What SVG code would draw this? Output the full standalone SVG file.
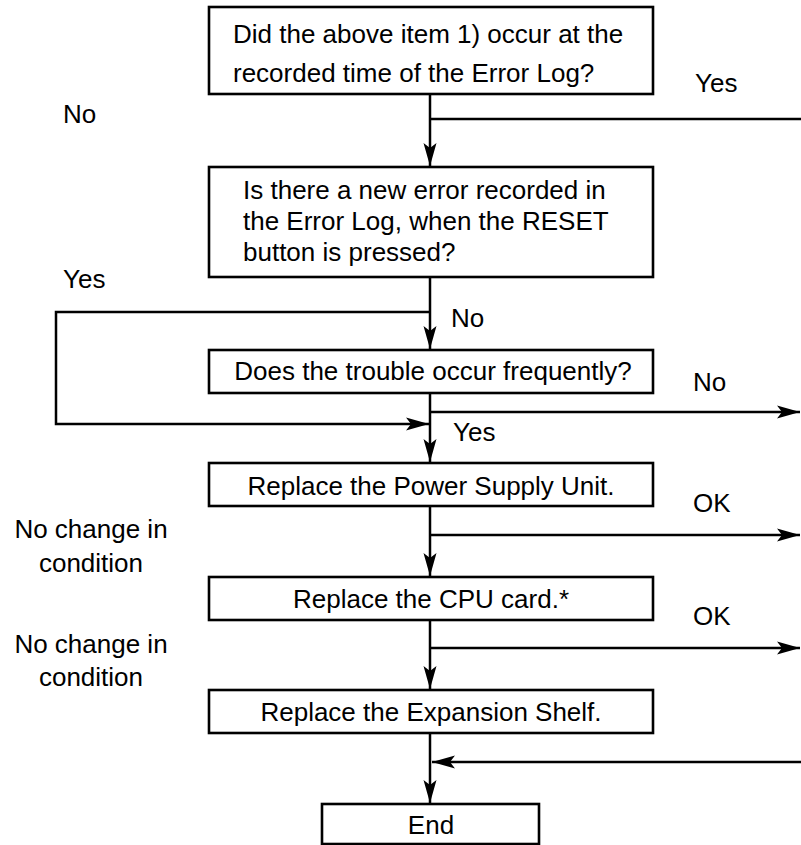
<svg xmlns="http://www.w3.org/2000/svg" width="801" height="845" viewBox="0 0 801 845">
<style>
  .box { fill: #ffffff; stroke: #000000; stroke-width: 2.6; }
  .t { font-family: "Liberation Sans", Arial, Helvetica, sans-serif; font-size: 26px; fill: #000000; }
  .c { text-anchor: middle; }
  .ln { fill: none; stroke: #000000; stroke-width: 2.5; }
</style>
<defs>
  <marker id="arr" markerUnits="userSpaceOnUse" viewBox="-24 -8 26 16" markerWidth="26" markerHeight="16" refX="0" refY="0" orient="auto">
    <path d="M0,0 L-23,-6.5 L-18,0 L-23,6.5 Z" fill="#000000"/>
  </marker>
</defs>
<rect width="801" height="845" fill="#ffffff"/>

<g id="connectors">
  <path class="ln" d="M430,94 V166" marker-end="url(#arr)"/>
  <path class="ln" d="M430,119 H801"/>
  <path class="ln" d="M430,277 V349" marker-end="url(#arr)"/>
  <path class="ln" d="M430,312 H56 V424 H429" marker-end="url(#arr)"/>
  <path class="ln" d="M430,393 V462" marker-end="url(#arr)"/>
  <path class="ln" d="M430,412 H800" marker-end="url(#arr)"/>
  <path class="ln" d="M430,506 V576" marker-end="url(#arr)"/>
  <path class="ln" d="M430,535 H800" marker-end="url(#arr)"/>
  <path class="ln" d="M430,620 V689" marker-end="url(#arr)"/>
  <path class="ln" d="M430,648 H800" marker-end="url(#arr)"/>
  <path class="ln" d="M430,733 V803" marker-end="url(#arr)"/>
  <path class="ln" d="M801,762 H432" marker-end="url(#arr)"/>
</g>

<g id="labels">
  <text class="t" x="695" y="92">Yes</text>
  <text class="t" x="63" y="123">No</text>
  <text class="t" x="63" y="288">Yes</text>
  <text class="t" x="451" y="327">No</text>
  <text class="t" x="693" y="391">No</text>
  <text class="t" x="453" y="441">Yes</text>
  <text class="t" x="693" y="512">OK</text>
  <text class="t" x="693" y="625">OK</text>
  <text class="t c" x="91" y="538">No change in</text>
  <text class="t c" x="91" y="572">condition</text>
  <text class="t c" x="91" y="653">No change in</text>
  <text class="t c" x="91" y="686">condition</text>
</g>

<g id="q1">
  <rect class="box" x="209" y="7" width="444" height="87"/>
  <text class="t" x="233" y="43">Did the above item 1) occur at the</text>
  <text class="t" x="233" y="82">recorded time of the Error Log?</text>
</g>

<g id="q2">
  <rect class="box" x="209" y="167" width="444" height="110"/>
  <text class="t" x="243" y="199">Is there a new error recorded in</text>
  <text class="t" x="243" y="230">the Error Log, when the RESET</text>
  <text class="t" x="243" y="261">button is pressed?</text>
</g>

<g id="q3">
  <rect class="box" x="209" y="350" width="444" height="43"/>
  <text class="t c" x="433" y="380">Does the trouble occur frequently?</text>
</g>

<g id="psu">
  <rect class="box" x="209" y="463" width="444" height="43"/>
  <text class="t c" x="431" y="495">Replace the Power Supply Unit.</text>
</g>

<g id="cpu">
  <rect class="box" x="209" y="577" width="444" height="43"/>
  <text class="t c" x="431" y="608">Replace the CPU card.*</text>
</g>

<g id="shelf">
  <rect class="box" x="209" y="690" width="444" height="43"/>
  <text class="t c" x="431" y="721">Replace the Expansion Shelf.</text>
</g>

<g id="end">
  <rect class="box" x="322" y="804" width="217" height="40"/>
  <text class="t c" x="431" y="834">End</text>
</g>
</svg>
